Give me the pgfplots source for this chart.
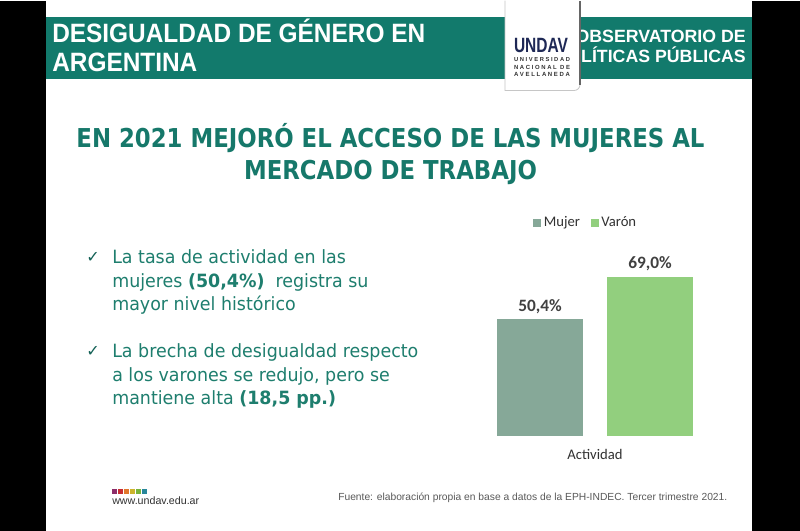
\documentclass[border=0pt]{standalone}
\usepackage{fontspec}
\setmainfont{Liberation Sans}
\newfontfamily\dejavu{DejaVu Sans}
\newfontfamily\carl{Carlito}
\usepackage{graphicx}
\usepackage{pgfplots}
\pgfplotsset{compat=1.18}
\definecolor{headteal}{RGB}{18,122,108}
\definecolor{titleteal}{RGB}{22,120,106}
\definecolor{bodyteal}{RGB}{30,126,110}
\definecolor{mujer}{RGB}{134,168,152}
\definecolor{varon}{RGB}{146,207,126}
\definecolor{valgray}{RGB}{64,64,64}
\definecolor{labgray}{RGB}{50,50,50}
\definecolor{navy}{RGB}{30,40,85}
\definecolor{sqa}{RGB}{140,45,105}
\definecolor{sqb}{RGB}{200,45,50}
\definecolor{sqc}{RGB}{225,120,45}
\definecolor{sqd}{RGB}{205,180,45}
\definecolor{sqe}{RGB}{120,180,60}
\definecolor{sqf}{RGB}{40,135,155}
\newcommand\bl[2]{\node[anchor=base west,inner sep=0pt,text=bodyteal] at (112,#1) {\scalebox{0.955}[1]{\dejavu\fontsize{13.7pt}{16pt}\selectfont #2}};}
\begin{document}
\begin{tikzpicture}
\begin{scope}[x=0.75pt,y=-0.75pt]
% background
\fill[black] (0,0) rectangle (800,530);
\fill[white] (46,0) rectangle (752,530);
% header band
\fill[headteal] (46,16) rectangle (752,78);
\node[anchor=base west,inner sep=0pt,text=white] at (52,42.3) {\scalebox{0.92}[1]{\fontsize{19.9pt}{22pt}\selectfont\bfseries DESIGUALDAD DE GÉNERO EN}};
\node[anchor=base west,inner sep=0pt,text=white] at (52,70.7) {\scalebox{0.92}[1]{\fontsize{19.9pt}{22pt}\selectfont\bfseries ARGENTINA}};
\begin{scope}
\clip (581,16) rectangle (752,78);
\node[anchor=base east,inner sep=0pt,text=white] at (746,41.7) {\fontsize{13.3pt}{15pt}\selectfont\bfseries OBSERVATORIO DE};
\node[anchor=base east,inner sep=0pt,text=white] at (746,61.7) {\fontsize{13.3pt}{15pt}\selectfont\bfseries POLÍTICAS PÚBLICAS};
\end{scope}
% logo card
\fill[white] (505,0) -- (505,90) -- (574,90) to[out=0,in=-90] (580,84) -- (580,0) -- cycle;
\draw[gray!45,line width=0.6pt] (505,0) -- (505,90) -- (574,90) to[out=0,in=-90] (580,84);
\draw[gray!80!black,line width=0.8pt] (580,84) -- (580,0);
\begin{scope}
\clip (505,0) rectangle (580,77);
\node[anchor=base,inner sep=0pt,text=navy] at (541,51.5) {\scalebox{0.75}[1]{\fontsize{15.5pt}{17pt}\selectfont\bfseries UNDAV}};
\node[anchor=base,inner sep=0pt,text=labgray] at (542,61) {\resizebox{42pt}{!}{\bfseries U N I V E R S I D A D}};
\node[anchor=base,inner sep=0pt,text=labgray] at (542,68.5) {\resizebox{42pt}{!}{\bfseries N A C I O N A L\ \ D E}};
\node[anchor=base,inner sep=0pt,text=labgray] at (542,76) {\resizebox{42pt}{!}{\bfseries A V E L L A N E D A}};
\end{scope}
% title
\node[anchor=base,inner sep=0pt,text=titleteal] at (390.5,146.7) {\scalebox{0.878}[1]{\dejavu\bfseries\fontsize{19.5pt}{22pt}\selectfont EN 2021 MEJORÓ EL ACCESO DE LAS MUJERES AL}};
\node[anchor=base,inner sep=0pt,text=titleteal] at (390.5,179) {\scalebox{0.878}[1]{\dejavu\bfseries\fontsize{19.5pt}{22pt}\selectfont MERCADO DE TRABAJO}};
% bullets
\node[anchor=base west,inner sep=0pt,text=titleteal!80!black] at (86,262) {\dejavu\fontsize{12pt}{14pt}\selectfont ✓};
\node[anchor=base west,inner sep=0pt,text=titleteal!80!black] at (86,356) {\dejavu\fontsize{12pt}{14pt}\selectfont ✓};
\bl{263}{La tasa de actividad en las}
\bl{287}{mujeres {\bfseries (50,4\%)}\ \ registra su}
\bl{310}{mayor nivel histórico}
\bl{357}{La brecha de desigualdad respecto}
\bl{381}{a los varones se redujo, pero se}
\bl{404}{mantiene alta {\bfseries (18,5 pp.)}}
% footer
\fill[sqa] (112,488) rectangle (116.5,493);
\fill[sqb] (118,488) rectangle (122.5,493);
\fill[sqc] (124,488) rectangle (128.5,493);
\fill[sqd] (130,488) rectangle (134.5,493);
\fill[sqe] (136,488) rectangle (140.5,493);
\fill[sqf] (142,488) rectangle (146.5,493);
\node[anchor=base west,inner sep=0pt,text=labgray] at (112,504) {\fontsize{8pt}{10pt}\selectfont www.undav.edu.ar};
\node[anchor=base west,inner sep=0pt,text=black!65] at (338,500) {\resizebox{291.75pt}{!}{\fontsize{8pt}{10pt}\selectfont Fuente: elaboración propia en base a datos de la EPH-INDEC. Tercer trimestre 2021.}};
\end{scope}
\begin{axis}[
  at={(352.5pt,-326.25pt)}, anchor=south west,
  scale only axis, width=187.5pt, height=138.26pt,
  xmin=-1, xmax=1, ymin=0, ymax=80,
  axis line style={draw=none},
  ytick=\empty, xtick={0}, xticklabels={Actividad},
  major tick length=0pt,
  xticklabel style={font=\carl\fontsize{11pt}{13pt}\selectfont, text=labgray, inner sep=0pt, anchor=north, yshift=-10pt},
  ybar=18pt, bar width=64.5pt,
  nodes near coords={\pgfmathprintnumber[fixed,fixed zerofill,precision=1,use comma,assume math mode=true]{\pgfplotspointmeta}\%},
  nodes near coords style={font=\carl\bfseries\fontsize{13pt}{15pt}\selectfont, text=valgray, inner sep=0pt, anchor=south, yshift=4pt},
  legend columns=2,
  legend style={at={(0.464,1.155)}, anchor=center, draw=none, fill=none, font=\carl\fontsize{11pt}{13pt}\selectfont, text=labgray, /tikz/every even column/.append style={column sep=6pt}},
  legend image code/.code={\fill[#1] (0pt,-3pt) rectangle (6pt,3pt);},
  clip=false
]
\addplot[fill=mujer, draw=none] coordinates {(0,50.4)};
\addplot[fill=varon, draw=none] coordinates {(0,69.0)};
\legend{Mujer,Varón}
\end{axis}
\end{tikzpicture}
\end{document}
